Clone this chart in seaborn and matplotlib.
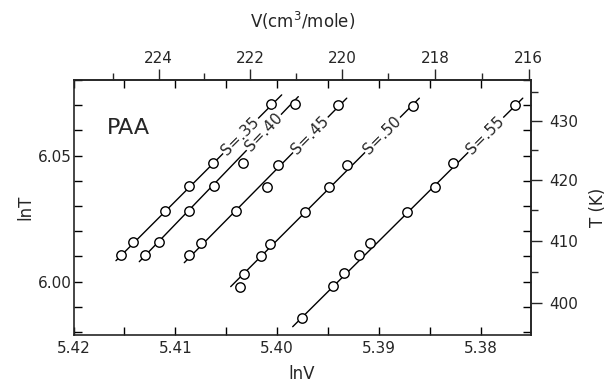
import numpy as np
import pandas as pd
import matplotlib
matplotlib.use("Agg")
import matplotlib.pyplot as plt
import matplotlib.ticker as mticker
import seaborn as sns

# values: ln V and ln T for each isoorder line S
s_labels = ["S=.35", "S=.40", "S=.45", "S=.50", "S=.55"]

lnv_35 = [5.41536, 5.41411, 5.41104, 5.40865, 5.40630, 5.40060]
lnt_35 = [6.0106, 6.0158, 6.0279, 6.0379, 6.0472, 6.0706]

lnv_40 = [5.41293, 5.41163, 5.40863, 5.40620, 5.40338, 5.39829]
lnt_40 = [6.0106, 6.0157, 6.0279, 6.0379, 6.0471, 6.0703]

lnv_45 = [5.40861, 5.40748, 5.40404, 5.40097, 5.39991, 5.39402]
lnt_45 = [6.0105, 6.0154, 6.0281, 6.0375, 6.0464, 6.0701]

lnv_50 = [5.40364, 5.40328, 5.40161, 5.40070, 5.39726, 5.39492, 5.39316, 5.38668]
lnt_50 = [5.9980, 6.0030, 6.0101, 6.0151, 6.0275, 6.0377, 6.0463, 6.0698]

lnv_55 = [5.39758, 5.39448, 5.39343, 5.39198, 5.39087, 5.38721, 5.38449, 5.38275, 5.37663]
lnt_55 = [5.9855, 5.9983, 6.0033, 6.0106, 6.0152, 6.0278, 6.0375, 6.0470, 6.0701]

# ends of the drawn straight lines (lnV, lnT), lower end then upper end
line_lnv = [(5.41583, 5.39955), (5.41354, 5.39792), (5.40912, 5.39316),
            (5.40456, 5.38603), (5.39847, 5.37587)]
line_lnt = [(6.0083, 6.0741), (6.0079, 6.0734), (6.0075, 6.0728),
            (5.9980, 6.0728), (5.9821, 6.0728)]

# ln T where each "S=" label sits on its line
label_lnt = [6.0578, 6.0592, 6.0582, 6.0582, 6.0582]

lnv_ticks = [5.42, 5.41, 5.40, 5.39, 5.38]
lnt_ticks = [6.00, 6.05]
v_ticks = [216, 218, 220, 222, 224]
v_minor = [217, 219, 221, 223, 225]
t_ticks = [400, 410, 420, 430]
t_minor = [395, 405, 415, 425, 435]

all_lnv = [lnv_35, lnv_40, lnv_45, lnv_50, lnv_55]
all_lnt = [lnt_35, lnt_40, lnt_45, lnt_50, lnt_55]

df = pd.concat([pd.DataFrame({'lnV': v, 'lnT': t, 'S': s})
                for v, t, s in zip(all_lnv, all_lnt, s_labels)], ignore_index=True)

sns.set_style("ticks")
plt.rcParams['font.family'] = ['DejaVu Sans']
plt.rcParams['axes.linewidth'] = 1.2

fig, ax = plt.subplots(figsize=(6.12, 3.83), dpi=100)
fig.subplots_adjust(left=0.1201, right=0.8672, bottom=0.1266, top=0.7911)
ax.set_xlim(5.42, 5.37509)
ax.set_ylim(5.9790, 6.0800)

for lv, lt in zip(line_lnv, line_lnt):
    ax.plot(lv, lt, color='black', lw=1.0, zorder=2)

sns.scatterplot(data=df, x='lnV', y='lnT', marker='o', s=46, color='white',
                edgecolor='black', linewidth=1.0, zorder=3, legend=False, ax=ax)

# labels along the lines
for lab, lt, lv_end, lt_end in zip(s_labels, label_lnt, line_lnv, line_lnt):
    lv = np.interp(lt, lt_end, lv_end)
    p0 = ax.transData.transform((lv_end[0], lt_end[0]))
    p1 = ax.transData.transform((lv_end[1], lt_end[1]))
    ang = np.degrees(np.arctan2(p1[1] - p0[1], p1[0] - p0[0]))
    ax.text(lv, lt, lab, rotation=ang, rotation_mode='anchor', ha='center', va='center',
            fontsize=11, zorder=4,
            bbox=dict(fc='white', ec='none', pad=1.0))

ax.text(0.12, 0.811, 'PAA', transform=ax.transAxes, ha='center', va='center', fontsize=16)

ax.xaxis.set_major_locator(mticker.FixedLocator(lnv_ticks))
ax.xaxis.set_minor_locator(mticker.MultipleLocator(0.005))
ax.xaxis.set_major_formatter(mticker.FormatStrFormatter('%.2f'))
ax.yaxis.set_major_locator(mticker.FixedLocator(lnt_ticks))
ax.yaxis.set_minor_locator(mticker.MultipleLocator(0.01))
ax.yaxis.set_major_formatter(mticker.FormatStrFormatter('%.2f'))
ax.tick_params(which='both', direction='in', top=True, right=True, length=6, width=1,
               labelsize=11, color='black')
ax.tick_params(axis='y', pad=1.5)
ax.tick_params(axis='x', pad=5)
ax.set_xlabel('lnV', fontsize=12, labelpad=6)
ax.set_ylabel('lnT', fontsize=12, labelpad=2)

secx = ax.secondary_xaxis('top', functions=(np.exp, np.log))
secx.xaxis.set_major_locator(mticker.FixedLocator(v_ticks))
secx.xaxis.set_minor_locator(mticker.FixedLocator(v_minor))
secx.xaxis.set_major_formatter(mticker.FormatStrFormatter('%d'))
secx.tick_params(which='major', direction='out', length=8, width=1, labelsize=11, pad=2)
secx.tick_params(which='minor', direction='out', length=5, width=1)
secx.set_xlabel('V(cm$^3$/mole)', fontsize=12, labelpad=17)

secy = ax.secondary_yaxis('right', functions=(np.exp, np.log))
secy.yaxis.set_major_locator(mticker.FixedLocator(t_ticks))
secy.yaxis.set_minor_locator(mticker.FixedLocator(t_minor))
secy.yaxis.set_major_formatter(mticker.FormatStrFormatter('%d'))
secy.tick_params(which='major', direction='out', length=8, width=1, labelsize=11, pad=5)
secy.tick_params(which='minor', direction='out', length=5, width=1)
secy.set_ylabel('T (K)', fontsize=12, labelpad=8)

fig.savefig('out.png', dpi=100)
